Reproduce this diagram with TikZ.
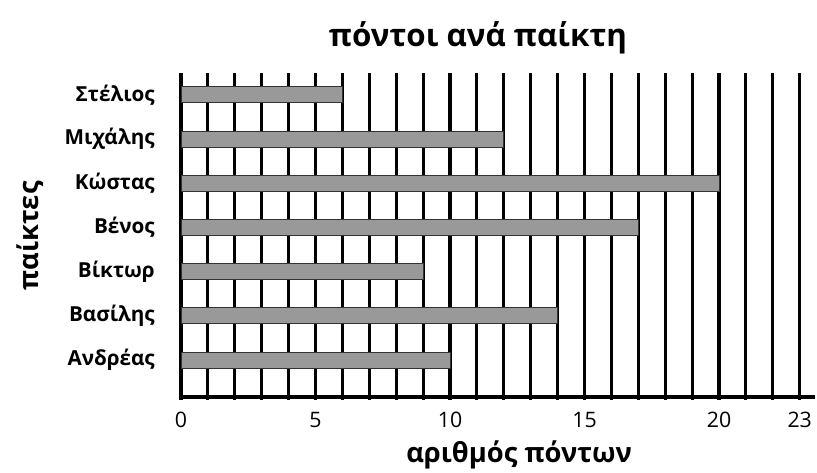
\documentclass[tikz,border=0pt]{standalone}
\usepackage{fontspec}
\setmainfont{Open Sans}
\usepackage{tikz}
\usepackage{xcolor}
\definecolor{bargray}{HTML}{999999}
\tikzset{
	grid line/.style={line width=2.3pt, black},
	bar/.style={fill=bargray, draw=black!80, line width=0.6pt},
	playername/.style={anchor=east, font=\bfseries\fontsize{15.5}{18}\selectfont},
	ticklabel/.style={font=\fontsize{16}{18}\selectfont},
	axistitle/.style={font=\bfseries\fontsize{20.5}{24}\selectfont},
}

\begin{document}
\begin{tikzpicture}[x=20.175pt, y=0.75pt]
			\useasboundingbox (-6.729,-76) rectangle (23.643,397);
			% grid lines
			\foreach \v in {0,...,23}
				\draw [grid line] (\v,-3) -- (\v,324);
			\draw [grid line] (0,0) -- (23.55,0);
			% bars
			\foreach \n/\p [count=\k from 0] in {Ανδρέας/10,Βασίλης/14,Βίκτωρ/9,Βένος/17,Κώστας/20,Μιχάλης/12,Στέλιος/6}
			{
				\filldraw [bar] (0,37+44.2*\k-8) rectangle (\p,37+44.2*\k+8);
				\node [playername] (player\k) at (-0.8,37+44.2*\k) {\n};
			}
			% axis labels
			\foreach \t in {0,5,10,15,20,23}
				\node [ticklabel] (tick\t) at (\t,-23) {\t};
			\node [font=\bfseries\fontsize{23.5}{28}\selectfont] (title) at (11.04,359) {πόντοι ανά παίκτη};
			\node [axistitle] (xlabel) at (12.57,-58) {αριθμός πόντων};
			\node [axistitle, rotate=90] (ylabel) at (-5.61,161) {παίκτες};
		\end{tikzpicture}
\end{document}
